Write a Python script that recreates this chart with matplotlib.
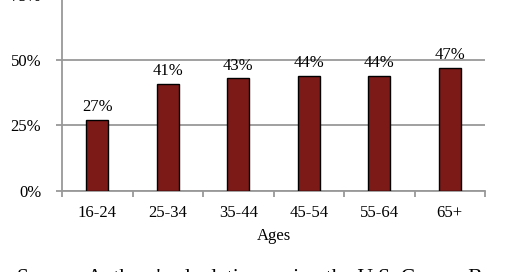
import numpy as np
import matplotlib
matplotlib.use("Agg")
import matplotlib.pyplot as plt
from matplotlib.ticker import FixedLocator

ages = ["16-24", "25-34", "35-44", "45-54", "55-64", "65+"]
shares = [27, 41, 43, 44, 44, 47]
yticks = [0, 25, 50, 75]

plt.rcParams["font.family"] = ["Liberation Serif", "DejaVu Serif"]

W, H = 520, 272
fig = plt.figure(figsize=(W / 100, H / 100), dpi=100)
ax = fig.add_axes([62 / W, 1 - 190.7 / H, 423 / W, (190.7 + 5.2) / H])

x = np.arange(len(ages))
bars = ax.bar(x, shares, width=0.31, color="#7c1a18", edgecolor="black",
              linewidth=1.0, zorder=3)

for xi, v in zip(x, shares):
    ax.annotate(f"{v}%", (xi, v), xytext=(0, 3.5), textcoords="offset points",
                ha="center", va="bottom", fontsize=12)

grid_col = "#999999"
ax.set_xlim(-0.5, len(ages) - 0.5)
ax.set_ylim(0, 75)
ax.set_yticks(yticks)
ax.set_yticklabels([f"{t}%" for t in yticks])
ax.yaxis.grid(True, color=grid_col, linewidth=1.3, zorder=0)
ax.set_axisbelow(True)

ax.set_xticks(x)
ax.set_xticklabels(ages)
ax.xaxis.set_minor_locator(FixedLocator(np.arange(-0.5, len(ages), 1.0)))
ax.tick_params(axis="x", which="major", length=0, pad=10, labelsize=12)
ax.tick_params(axis="x", which="minor", length=4, width=1.3, color=grid_col)
ax.tick_params(axis="y", length=4, width=1.3, color=grid_col, pad=11,
               labelsize=12)

for side in ["top", "right"]:
    ax.spines[side].set_visible(False)
for side in ["left", "bottom"]:
    ax.spines[side].set_color(grid_col)
    ax.spines[side].set_linewidth(1.3)

ax.set_xlabel("Ages", fontsize=12, labelpad=5)

fig.text(17 / W, 1 - 268.5 / H,
         "Source: Authors' calculations using the U.S. Census Bureau's",
         ha="left", va="top", fontsize=15.5)

fig.savefig("out.png", dpi=100)
